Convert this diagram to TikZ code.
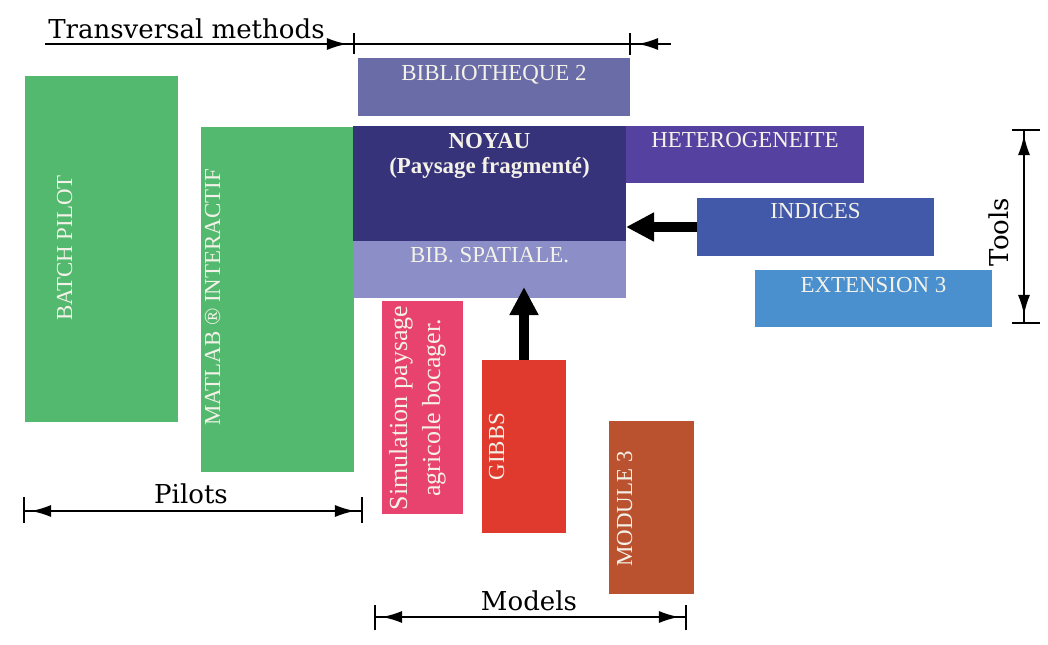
\documentclass[tikz,border=0pt]{standalone}
\usepackage{fontspec}
\setmainfont{Liberation Serif}
\newfontfamily\dimfont{DejaVu Serif}
\usetikzlibrary{arrows.meta,calc}
\definecolor{cgreen}{HTML}{52B96F}
\definecolor{cbibA}{HTML}{6A6CA8}
\definecolor{cnoyau}{HTML}{37337A}
\definecolor{cbibsp}{HTML}{8C8FC7}
\definecolor{chet}{HTML}{5542A0}
\definecolor{cind}{HTML}{4259AA}
\definecolor{cext}{HTML}{4A90CE}
\definecolor{csim}{HTML}{E8436E}
\definecolor{cgibbs}{HTML}{E0392D}
\definecolor{cmod}{HTML}{BA5230}
\definecolor{ctxt}{HTML}{F4F2E8}
\begin{document}
\begin{tikzpicture}[x=0.025cm,y=-0.025cm,
  box/.style={draw=none,inner sep=0pt,outer sep=0pt,anchor=north west},
  bsz/.style 2 args={minimum width=#1*0.025cm,minimum height=#2*0.025cm},
  hl/.style={text=ctxt,font=\fontsize{16.3}{19}\selectfont,anchor=base,inner sep=0pt},
  vl/.style={text=ctxt,font=\fontsize{16.3}{19}\selectfont,anchor=base,inner sep=0pt,rotate=90},
  dimtxt/.style={font=\dimfont\fontsize{18.5}{22}\selectfont,anchor=base,inner sep=0pt},
  dimline/.style={line width=1.3pt,black},
  dimarrow/.style={line width=1.3pt,black,-{Latex[length=0.5cm,width=0.3cm]}},
  bigarrow/.style={line width=0.23cm,black,-{Triangle[length=0.7cm,width=0.68cm]}}]
\useasboundingbox[fill=white] (0,0) rectangle (1048,645);

% boxes
\node[box,bsz={153}{346},fill=cgreen] (batch) at (25,76) {};
\node[box,bsz={153}{345},fill=cgreen] (matlab) at (201,127) {};
\node[box,bsz={272}{58},fill=cbibA] (bib2) at (358,58) {};
\node[box,bsz={273}{115},fill=cnoyau] (noyau) at (353,126) {};
\node[box,bsz={273}{57},fill=cbibsp] (bibsp) at (353,241) {};
\node[box,bsz={238}{57},fill=chet] (het) at (626,126) {};
\node[box,bsz={237}{58},fill=cind] (indices) at (697,198) {};
\node[box,bsz={237}{57},fill=cext] (ext) at (755,270) {};
\node[box,bsz={81}{213},fill=csim] (sim) at (382,301) {};
\node[box,bsz={84}{173},fill=cgibbs] (gibbs) at (482,360) {};
\node[box,bsz={85}{173},fill=cmod] (mod3) at (609,421) {};

% horizontal labels
\node[hl] (tbib2) at ($(bib2.north)+(0,22)$) {BIBLIOTHEQUE 2};
\node[hl,font=\fontsize{16.3}{19}\selectfont\bfseries] (tnoy1) at ($(noyau.north)+(0,22)$) {NOYAU};
\node[hl,font=\fontsize{16.3}{19}\selectfont\bfseries] (tnoy2) at ($(noyau.north)+(0,47)$) {(Paysage fragmenté)};
\node[hl] (tbibsp) at ($(bibsp.north)+(0,21)$) {BIB. SPATIALE.};
\node[hl] (thet) at ($(het.north)+(0,21)$) {HETEROGENEITE};
\node[hl] (tind) at ($(indices.north)+(0,20)$) {INDICES};
\node[hl] (text3) at ($(ext.north)+(0,22)$) {EXTENSION 3};

% vertical labels
\node[vl] (tbatch) at ($(batch.west)+(47,-1)$) {BATCH PILOT};
\node[vl] (tmatlab) at ($(matlab.west)+(19,-2)$) {MATLAB \textregistered\ INTERACTIF};
\node[vl] (tgibbs) at ($(gibbs.west)+(22,0)$) {GIBBS};
\node[vl] (tmod) at ($(mod3.west)+(23,1.5)$) {MODULE 3};
\node[text=ctxt,font=\fontsize{18.5}{23.5}\selectfont,rotate=90,align=center,inner sep=0pt] (tsim) at ($(sim.center)+(-5,0.5)$) {Simulation paysage\\agricole bocager.};

% big arrows
\draw[bigarrow] (indices.west) -- (indices.west -| noyau.east);
\draw[bigarrow] (gibbs.north) -- ($(gibbs.north |- bibsp.south)+(0,-11)$);

% Transversal methods dimension
\coordinate (tmL) at (45,44);
\coordinate (tmR) at (671,44);
\coordinate (tmA) at (354,44);
\coordinate (tmB) at (630,44);
\draw[dimline] (tmL) -- (tmR);
\draw[dimline] ($(tmA)+(0,-11)$) -- ($(tmA)+(0,10)$);
\draw[dimline] ($(tmB)+(0,-11)$) -- ($(tmB)+(0,11)$);
\draw[dimarrow] ($(tmA)+(-32,0)$) -- ($(tmA)+(-7,0)$);
\draw[dimarrow] ($(tmB)+(32,0)$) -- ($(tmB)+(8,0)$);
\node[dimtxt] (ttm) at (186.5,38) {Transversal methods};

% Pilots dimension
\coordinate (plL) at (24,511);
\coordinate (plR) at (362,511);
\draw[dimline] (plL) -- (plR);
\draw[dimline] ($(plL)+(0,-14)$) -- ($(plL)+(0,12)$);
\draw[dimline] ($(plR)+(0,-14)$) -- ($(plR)+(0,12)$);
\draw[dimarrow] ($(plL)+(32,0)$) -- ($(plL)+(7,0)$);
\draw[dimarrow] ($(plR)+(-32,0)$) -- ($(plR)+(-7,0)$);
\node[dimtxt] (tpl) at (191,503) {Pilots};

% Models dimension
\coordinate (mdL) at (375,617);
\coordinate (mdR) at (686,617);
\draw[dimline] (mdL) -- (mdR);
\draw[dimline] ($(mdL)+(0,-12)$) -- ($(mdL)+(0,13)$);
\draw[dimline] ($(mdR)+(0,-12)$) -- ($(mdR)+(0,13)$);
\draw[dimarrow] ($(mdL)+(32,0)$) -- ($(mdL)+(7,0)$);
\draw[dimarrow] ($(mdR)+(-32,0)$) -- ($(mdR)+(-7,0)$);
\node[dimtxt] (tmd) at (529,610) {Models};

% Tools dimension
\coordinate (toT) at (1024,130);
\coordinate (toB) at (1024,323);
\draw[dimline] (toT) -- (toB);
\draw[dimline] ($(toT)+(-12,0)$) -- ($(toT)+(16,0)$);
\draw[dimline] ($(toB)+(-12,0)$) -- ($(toB)+(16,0)$);
\draw[dimarrow] ($(toT)+(0,32)$) -- ($(toT)+(0,5)$);
\draw[dimarrow] ($(toB)+(0,-32)$) -- ($(toB)+(0,-8)$);
\node[dimtxt,rotate=90] (tto) at (1008,232) {Tools};
\end{tikzpicture}
\end{document}
